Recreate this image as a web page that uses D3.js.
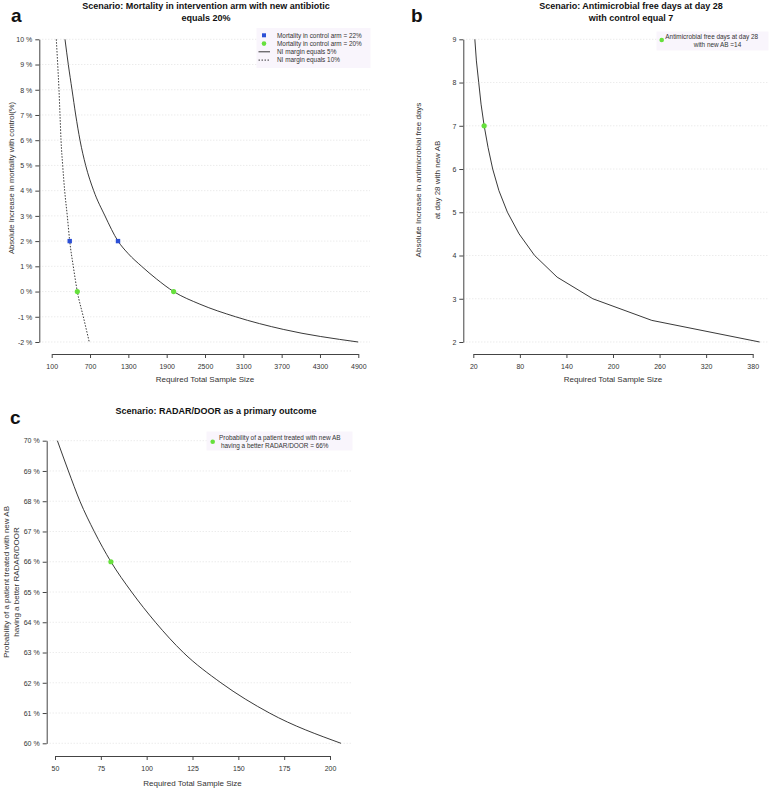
<!DOCTYPE html>
<html>
<head>
<meta charset="utf-8">
<script src="https://cdn.jsdelivr.net/npm/d3@7"></script>
<style>
  body { margin: 0; background: #fff; }
  svg { display: block; font-family: "Liberation Sans", Arial, Helvetica, sans-serif; }
</style>
</head>
<body>
<svg id="chart" width="771" height="789"></svg>
<script>
// ---------- DATA ----------
// Panel a: Mortality scenario
const aYTicks = [10, 9, 8, 7, 6, 5, 4, 3, 2, 1, 0, -1, -2];
const aXTicks = [100, 700, 1300, 1900, 2500, 3100, 3700, 4300, 4900];
const aMargin5Increase = [10, 9, 8, 7, 6, 5, 4, 3, 2, 1.5, 1, 0.5, 0, -0.5, -1, -1.5, -2];
const aMargin5SampleSize = [308, 360, 418, 476, 543, 632, 757, 934, 1138, 1299, 1508, 1740, 2009, 2420, 2980, 3725, 4898];
const aMargin10Increase = [10, 9, 8, 7, 6, 5, 4, 3, 2, 1, 0, -1, -2];
const aMargin10SampleSize = [172, 194, 214, 230, 246, 272, 303, 344, 382, 438, 501, 595, 688];
const aBluePointsN = [1138, 382];
const aBluePointsY = [2, 2];
const aGreenPointsN = [2009, 501];
const aGreenPointsY = [0, 0];
const aLegendLabels = ["Mortality in control arm = 22%", "Mortality in control arm = 20%", "NI margin equals 5%", "NI margin equals 10%"];

// Panel b: Antimicrobial free days
const bYTicks = [9, 8, 7, 6, 5, 4, 3, 2];
const bXTicks = [20, 80, 140, 200, 260, 320, 380];
const bIncrease = [9, 8.5, 8, 7.5, 7, 6.5, 6, 5.5, 5, 4.5, 4, 3.5, 3, 2.5, 2];
const bSampleSize = [22, 24, 27, 30, 34, 39, 45, 53, 64, 79, 99, 128, 174, 250, 389];
const bPointN = [34];
const bPointY = [7];
const bLegendLines = ["Antimicrobial free days at day 28", "with new AB =14"];

// Panel c: RADAR/DOOR
const cYTicks = [70, 69, 68, 67, 66, 65, 64, 63, 62, 61, 60];
const cXTicks = [50, 75, 100, 125, 150, 175, 200];
const cProbability = [70, 69, 68, 67, 66, 65, 64, 63, 62, 61, 60];
const cSampleSize = [51.3, 57.3, 63.6, 71.4, 80.5, 91.8, 104.8, 120, 140.5, 167, 206];
const cPointN = [80.5];
const cPointY = [66];
const cLegendLines = ["Probability of a patient treated with new AB", "having a better RADAR/DOOR = 66%"];

// ---------- DRAW ----------
const svg = d3.select("#chart");
const BLUE = "#2b4fd6", GREEN = "#66e03c", AXIS = "#444", TXT = "#333";

function zip(xs, ys) { return xs.map((x, i) => ({ x: x, y: ys[i] })); }

function panel(cfg) {
  const g = svg.append("g");
  const x = d3.scaleLinear().domain(cfg.xDomain).range(cfg.xRange);
  const y = d3.scaleLinear().domain(cfg.yDomain).range(cfg.yRange);

  // grid
  g.append("g").selectAll("line").data(cfg.yTicks).join("line")
    .attr("x1", cfg.axisX).attr("x2", cfg.gridEnd)
    .attr("y1", d => y(d)).attr("y2", d => y(d))
    .attr("stroke", "#dcdcdc").attr("stroke-width", 0.8).attr("stroke-dasharray", "1,2");

  // y axis
  const ya = g.append("g").attr("transform", `translate(${cfg.axisX},0)`)
    .call(d3.axisLeft(y).tickValues(cfg.yTicks).tickSize(4).tickSizeOuter(0).tickPadding(3).tickFormat(cfg.yFmt));
  ya.select(".domain").attr("stroke", AXIS);
  ya.selectAll(".tick line").attr("stroke", AXIS);
  ya.selectAll("text").attr("font-size", 7).attr("fill", TXT).attr("font-family", "Liberation Sans, Arial, sans-serif");

  // x axis
  const xa = g.append("g").attr("transform", `translate(0,${cfg.axisY})`)
    .call(d3.axisBottom(x).tickValues(cfg.xTicks).tickSize(4).tickSizeOuter(0).tickPadding(6).tickFormat(d3.format("d")));
  xa.select(".domain").attr("stroke", AXIS);
  xa.selectAll(".tick line").attr("stroke", AXIS);
  xa.selectAll("text").attr("font-size", 7).attr("fill", TXT).attr("font-family", "Liberation Sans, Arial, sans-serif");

  // axis titles
  g.append("text").attr("x", (cfg.xRange[0] + cfg.xRange[1]) / 2).attr("y", cfg.xLabelY)
    .attr("text-anchor", "middle").attr("font-size", 8).attr("fill", TXT).text("Required Total Sample Size");
  cfg.yLabel.forEach((t, i) => {
    g.append("text").attr("transform", `translate(${cfg.yLabelX[i]},${cfg.yLabelY}) rotate(-90)`)
      .attr("text-anchor", "middle").attr("font-size", cfg.yLabelSize).attr("fill", TXT).text(t);
  });

  // titles
  cfg.title.forEach((t, i) => {
    g.append("text").attr("x", cfg.titleX).attr("y", cfg.titleY + i * 12.5)
      .attr("text-anchor", "middle").attr("font-size", 9).attr("font-weight", "bold").attr("fill", "#111").text(t);
  });
  g.append("text").attr("x", cfg.letterX).attr("y", cfg.letterY).attr("font-size", 19)
    .attr("font-weight", "bold").attr("fill", "#111").text(cfg.letter);

  return { g, x, y };
}

// Panel a
{
  const p = panel({
    xDomain: [100, 4900], xRange: [51.7, 358.3], yDomain: [-2, 10], yRange: [342, 39.3],
    axisX: 39.3, axisY: 354, gridEnd: 370, yTicks: aYTicks, xTicks: aXTicks, yFmt: d => d + " %",
    xLabelY: 382, yLabel: ["Absolute Increase in mortality with control(%)"], yLabelX: [14], yLabelY: 178, yLabelSize: 7.6,
    title: ["Scenario: Mortality in intervention arm with new antibiotic", "equals 20%"], titleX: 206, titleY: 8.5,
    letter: "a", letterX: 11, letterY: 22
  });
  const line = d3.line().x(d => p.x(d.x)).y(d => p.y(d.y)).curve(d3.curveMonotoneX);
  p.g.append("path").datum(zip(aMargin5SampleSize, aMargin5Increase)).attr("d", line)
    .attr("fill", "none").attr("stroke", "#222").attr("stroke-width", 0.9);
  p.g.append("path").datum(zip(aMargin10SampleSize, aMargin10Increase)).attr("d", line)
    .attr("fill", "none").attr("stroke", "#222").attr("stroke-width", 0.9).attr("stroke-dasharray", "1.5,1.5");
  p.g.selectAll(".bp").data(zip(aBluePointsN, aBluePointsY)).join("rect")
    .attr("x", d => p.x(d.x) - 2.2).attr("y", d => p.y(d.y) - 2.2).attr("width", 4.4).attr("height", 4.4).attr("fill", BLUE);
  p.g.selectAll(".gp").data(zip(aGreenPointsN, aGreenPointsY)).join("circle")
    .attr("cx", d => p.x(d.x)).attr("cy", d => p.y(d.y)).attr("r", 2.6).attr("fill", GREEN);
  // legend
  const L = p.g.append("g");
  L.append("rect").attr("x", 256.5).attr("y", 28).attr("width", 114).attr("height", 40).attr("fill", "#f9f5fc");
  const ly = [35.3, 43.6, 51.8, 60.1];
  L.append("rect").attr("x", 262).attr("y", ly[0] - 2).attr("width", 4).attr("height", 4).attr("fill", BLUE);
  L.append("circle").attr("cx", 264).attr("cy", ly[1]).attr("r", 2.3).attr("fill", GREEN);
  L.append("line").attr("x1", 258.5).attr("x2", 270).attr("y1", ly[2]).attr("y2", ly[2]).attr("stroke", "#222").attr("stroke-width", 0.9);
  L.append("line").attr("x1", 258.5).attr("x2", 270).attr("y1", ly[3]).attr("y2", ly[3]).attr("stroke", "#222").attr("stroke-width", 0.9).attr("stroke-dasharray", "1.5,1.5");
  aLegendLabels.forEach((t, i) => L.append("text").attr("x", 277).attr("y", ly[i] + 2.3)
    .attr("font-size", 6.4).attr("fill", TXT).text(t));
}

// Panel b
{
  const p = panel({
    xDomain: [20, 380], xRange: [473.3, 752.7], yDomain: [2, 9], yRange: [342, 39.3],
    axisX: 463.3, axisY: 354, gridEnd: 768, yTicks: bYTicks, xTicks: bXTicks, yFmt: d => d,
    xLabelY: 382, yLabel: ["Absolute Increase in antimicrobial free days", "at day 28 with new AB"], yLabelX: [421, 440], yLabelY: 180, yLabelSize: 8,
    title: ["Scenario: Antimicrobial free days at day 28", "with control equal 7"], titleX: 631, titleY: 8.5,
    letter: "b", letterX: 411, letterY: 22
  });
  const line = d3.line().x(d => p.x(d.x)).y(d => p.y(d.y));
  p.g.append("path").datum(zip(bSampleSize, bIncrease)).attr("d", line)
    .attr("fill", "none").attr("stroke", "#222").attr("stroke-width", 0.9);
  p.g.selectAll(".gp").data(zip(bPointN, bPointY)).join("circle")
    .attr("cx", d => p.x(d.x)).attr("cy", d => p.y(d.y)).attr("r", 2.6).attr("fill", GREEN);
  const L = p.g.append("g");
  L.append("rect").attr("x", 656.5).attr("y", 31.5).attr("width", 112).attr("height", 19).attr("fill", "#f9f5fc");
  L.append("circle").attr("cx", 661.7).attr("cy", 40).attr("r", 2.3).attr("fill", GREEN);
  L.append("text").attr("x", 711.7).attr("y", 39).attr("text-anchor", "middle").attr("font-size", 6.4).attr("fill", TXT).text(bLegendLines[0]);
  L.append("text").attr("x", 717.5).attr("y", 46.6).attr("text-anchor", "middle").attr("font-size", 6.4).attr("fill", TXT).text(bLegendLines[1]);
}

// Panel c
{
  const p = panel({
    xDomain: [50, 200], xRange: [55, 330], yDomain: [60, 70], yRange: [743.3, 440.7],
    axisX: 46.7, axisY: 756, gridEnd: 351.7, yTicks: cYTicks, xTicks: cXTicks, yFmt: d => d + " %",
    xLabelY: 786, yLabel: ["Probability of a patient treated with new AB", "having a better RADAR/DOOR"], yLabelX: [9, 18.5], yLabelY: 582, yLabelSize: 8,
    title: ["Scenario: RADAR/DOOR as a primary outcome"], titleX: 216, titleY: 413.5,
    letter: "c", letterX: 10, letterY: 424
  });
  const line = d3.line().x(d => p.x(d.x)).y(d => p.y(d.y)).curve(d3.curveMonotoneX);
  p.g.append("path").datum(zip(cSampleSize, cProbability)).attr("d", line)
    .attr("fill", "none").attr("stroke", "#222").attr("stroke-width", 0.9);
  p.g.selectAll(".gp").data(zip(cPointN, cPointY)).join("circle")
    .attr("cx", d => p.x(d.x)).attr("cy", d => p.y(d.y)).attr("r", 2.6).attr("fill", GREEN);
  const L = p.g.append("g");
  L.append("rect").attr("x", 206.5).attr("y", 431.5).attr("width", 146).attr("height", 19).attr("fill", "#f9f5fc");
  L.append("circle").attr("cx", 212.7).attr("cy", 441.7).attr("r", 2.3).attr("fill", GREEN);
  L.append("text").attr("x", 219).attr("y", 440).attr("font-size", 6.4).attr("fill", TXT).text(cLegendLines[0]);
  L.append("text").attr("x", 221).attr("y", 448).attr("font-size", 6.4).attr("fill", TXT).text(cLegendLines[1]);
}
</script>
</body>
</html>
